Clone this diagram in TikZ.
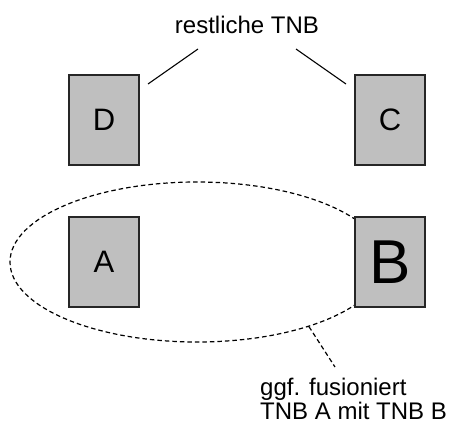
\documentclass[tikz,border=0pt]{standalone}
\usepackage{fontspec}
\setmainfont{Liberation Sans}
\usetikzlibrary{shapes.geometric}
\begin{document}
\begin{tikzpicture}[x=1pt,y=-1pt,
  tnb/.style={draw=black!85,line width=1.3pt,fill=black!25,minimum width=70pt,minimum height=90pt,inner sep=0pt},
  lbl/.style={font=\fontsize{24}{22}\selectfont,inner sep=0pt},
  dashline/.style={dash pattern=on 4.5pt off 3pt,line width=1.2pt}]
\useasboundingbox (0,0) rectangle (450,423);
\node[ellipse,draw,dashline,minimum width=374pt,minimum height=160pt,inner sep=0pt] (ell) at (197,262) {};
\node[tnb,font=\fontsize{31}{33}\selectfont] (D) at (104,120) {D};
\node[tnb,font=\fontsize{31}{33}\selectfont] (C) at (390,120) {C};
\node[tnb,font=\fontsize{31}{33}\selectfont] (A) at (104,262) {A};
\node[tnb,font=\fontsize{62}{64}\selectfont] (B) at (390,262) {B};
\node[lbl,anchor=base] (rest) at (247,33) {restliche TNB};
\node[lbl,anchor=base west,align=left,text depth=0pt] (fus) at (260,419) {ggf. fusioniert\\TNB A mit TNB B};
\coordinate (d1) at (148,84);
\coordinate (r1) at (198,49);
\coordinate (r2) at (296,49);
\coordinate (c1) at (346,84);
\coordinate (f1) at (335,367);
\draw[line width=1.1pt] (d1) -- (r1);
\draw[line width=1.1pt] (r2) -- (c1);
\draw[dashline] (ell.-30.4) -- (f1);
\end{tikzpicture}
\end{document}
